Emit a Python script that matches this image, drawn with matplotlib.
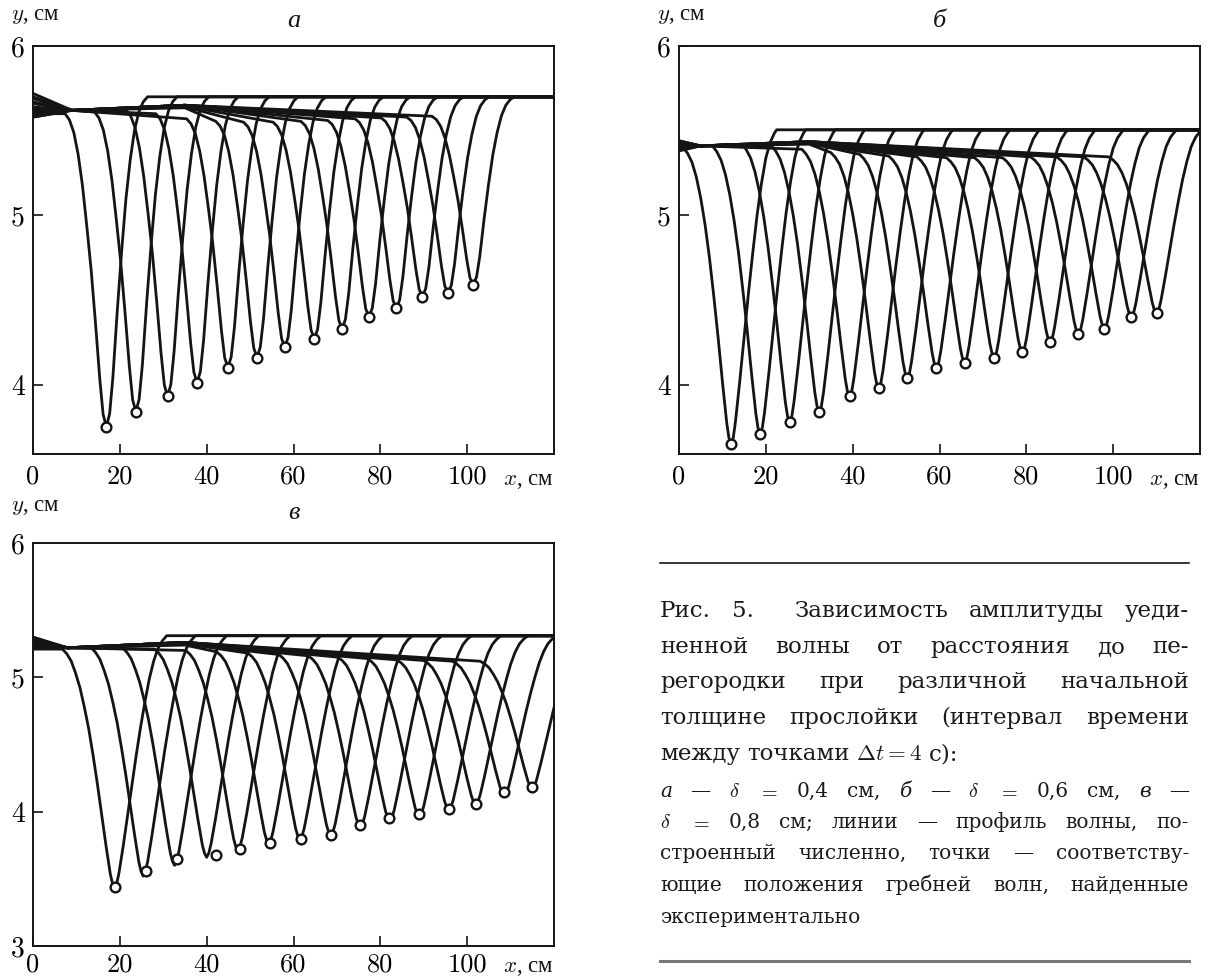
import matplotlib
matplotlib.use("Agg")
import matplotlib.pyplot as plt
from matplotlib.lines import Line2D

plt.rcParams["mathtext.fontset"] = "cm"
plt.rcParams["axes.unicode_minus"] = False

SERIF = "Liberation Serif"
CAPFONT = "DejaVu Serif"
TICKFONT = "cmr10"
INK = "#141414"
W_PX, H_PX = 1208, 980

# ---------- данные ----------
# (а) δ = 0,4 см: положения гребней (точки) = дно расчётных профилей
xa = [16.9, 23.7, 31.0, 37.8, 44.9, 51.6, 58.0, 64.8, 71.2, 77.4, 83.7, 89.7, 95.6, 101.4]
ya = [3.75, 3.84, 3.93, 4.01, 4.10, 4.16, 4.22, 4.27, 4.33, 4.40, 4.45, 4.52, 4.54, 4.59]
# уровень позади волны: при x = 0, на изломе плато и перед спадом
a_y0 = [5.60, 5.58, 5.58, 5.59, 5.60, 5.61, 5.62, 5.63, 5.64, 5.66, 5.67, 5.69, 5.70, 5.72]
a_ym = [5.62, 5.62, 5.62, 5.62, 5.63, 5.635, 5.64, 5.645, 5.65, 5.65, 5.65, 5.65, 5.65, 5.65]
a_yl = [5.60, 5.61, 5.62, 5.60, 5.57, 5.555, 5.55, 5.55, 5.555, 5.56, 5.57, 5.575, 5.58, 5.585]
a_top = 5.70
a_conv = (9.0, 5.62)
a_hump = 35.0

# (б) δ = 0,6 см
xb = [12.0, 18.7, 25.5, 32.3, 39.3, 46.0, 52.6, 59.3, 65.8, 72.6, 79.1, 85.5, 92.0, 98.0, 104.2, 110.0]
yb = [3.65, 3.71, 3.78, 3.84, 3.93, 3.98, 4.04, 4.10, 4.13, 4.16, 4.19, 4.25, 4.30, 4.33, 4.40, 4.42]
b_y0 = [5.40, 5.38, 5.39, 5.39, 5.40, 5.40, 5.41, 5.41, 5.42, 5.42, 5.42, 5.43, 5.43, 5.43, 5.44, 5.44]
b_ym = [5.41, 5.41, 5.42, 5.42, 5.42, 5.42, 5.425, 5.425, 5.43, 5.43, 5.43, 5.43, 5.435, 5.435, 5.435, 5.435]
b_yl = [5.40, 5.41, 5.42, 5.41, 5.39, 5.37, 5.36, 5.35, 5.345, 5.34, 5.34, 5.34, 5.345, 5.345, 5.345, 5.345]
b_top = 5.505
b_conv = (5.0, 5.41)
b_hump = 30.0

# (в) δ = 0,8 см: точки эксперимента и дно расчётных профилей
xv_pts = [18.8, 26.1, 33.2, 42.1, 47.7, 54.5, 61.7, 68.6, 75.4, 82.0, 89.0, 95.9, 102.0, 108.5, 114.9]
yv_pts = [3.44, 3.56, 3.65, 3.68, 3.72, 3.77, 3.80, 3.83, 3.90, 3.95, 3.98, 4.02, 4.06, 4.15, 4.18]
xv = [18.8, 25.4, 32.6, 40.0, 47.2, 54.3, 61.5, 68.6, 75.4, 82.2, 89.0, 95.8, 102.0, 108.6, 115.0]
yv = [3.43, 3.52, 3.60, 3.66, 3.71, 3.76, 3.79, 3.82, 3.88, 3.93, 3.96, 4.01, 4.05, 4.12, 4.17]
v_y0 = [5.21, 5.22, 5.22, 5.23, 5.23, 5.24, 5.24, 5.25, 5.26, 5.26, 5.27, 5.28, 5.28, 5.29, 5.30]
v_ym = [5.22, 5.22, 5.23, 5.23, 5.24, 5.24, 5.25, 5.25, 5.255, 5.26, 5.26, 5.26, 5.26, 5.26, 5.26]
v_yl = [5.21, 5.22, 5.22, 5.21, 5.20, 5.19, 5.18, 5.17, 5.16, 5.15, 5.14, 5.13, 5.125, 5.12, 5.12]
v_top = 5.31
v_conv = (8.0, 5.22)
v_hump = 35.0

# форма провала: смещение от дна (см) и доля глубины
a_off = [-9.5, -8.5, -7.5, -6.5, -5.5, -4.5, -3.5, -2.5, -1.5, -0.75, 0,
         0.75, 1.5, 2.5, 3.5, 4.5, 5.5, 6.5, 7.5, 8.5, 9.5]
a_frac = [0, 0.02, 0.06, 0.13, 0.23, 0.36, 0.50, 0.67, 0.85, 0.96, 1,
          0.96, 0.85, 0.65, 0.47, 0.31, 0.19, 0.10, 0.045, 0.015, 0]
b_off = [-11, -10, -9, -8, -7, -6, -5, -4, -3, -2, -1, -0.5, 0,
         0.5, 1, 2, 3, 4, 5, 6, 7, 8, 9, 10, 10.5]
b_frac = [0, 0.02, 0.05, 0.10, 0.17, 0.26, 0.37, 0.50, 0.64, 0.79, 0.93, 0.98, 1,
          0.98, 0.93, 0.80, 0.66, 0.52, 0.39, 0.27, 0.17, 0.09, 0.04, 0.01, 0]
v_off = [-12, -11, -10, -9, -8, -7, -6, -5, -4, -3, -2, -1, -0.5, 0,
         0.5, 1, 2, 3, 4, 5, 6, 7, 8, 9, 10, 11, 12]
v_frac = [0, 0.02, 0.05, 0.10, 0.16, 0.24, 0.33, 0.44, 0.56, 0.69, 0.82, 0.94, 0.98, 1,
          0.98, 0.94, 0.83, 0.71, 0.59, 0.47, 0.36, 0.26, 0.17, 0.10, 0.05, 0.02, 0]

x_ticks = [0, 20, 40, 60, 80, 100]


def profile(xt, yt, y0, ym, yl, top, off, frac, conv, hump):
    # плато позади волны -> провал -> невозмущённый уровень впереди
    start = xt + off[0]
    xs, ys = [0.0], [y0]
    if conv[0] < start:
        xs.append(conv[0])
        ys.append(conv[1])
    if conv[0] < hump < start - 3:
        xs.append(hump)
        ys.append(ym)
    for o, f in zip(off, frac):
        base = yl if o < 0 else top
        xs.append(xt + o)
        ys.append(base + f * (yt - base))
    xs.append(130.0)
    ys.append(top)
    return xs, ys


def pt(px):
    return px * 0.72


def panel(rect, letter, ylim, yticks, xt, yt, y0, ym, yl, top, off, frac,
          conv, hump, xp=None, yp=None, ylab_up=31, let_up=25, xlab_dn=31,
          xpad=8):
    ax = fig.add_axes(rect)
    for i in range(len(xt)):
        xs, ys = profile(xt[i], yt[i], y0[i], ym[i], yl[i], top, off, frac,
                         conv, hump)
        ax.plot(xs, ys, color=INK, lw=2.0, solid_joinstyle="round")
    if xp is None:
        xp, yp = xt, yt
    ax.plot(xp, yp, ls="none", marker="o", ms=7.0, mfc="white", mec=INK,
            mew=1.7, zorder=5)
    ax.set_xlim(0, 120)
    ax.set_ylim(*ylim)
    ax.set_xticks(x_ticks)
    ax.set_xticklabels([str(v) for v in x_ticks], fontfamily=TICKFONT, fontsize=19)
    ax.set_yticks(yticks)
    ax.set_yticklabels([str(v) for v in yticks], fontfamily=TICKFONT, fontsize=20)
    ax.tick_params(direction="in", length=7.5, width=1.2, color=INK, pad=6,
                   top=False, right=False)
    ax.tick_params(axis="x", pad=xpad)
    for s in ax.spines.values():
        s.set_linewidth(1.4)
        s.set_color(INK)
    ax.annotate(r"$x$, см", xy=(1, 0), xycoords="axes fraction",
                xytext=(0, pt(-xlab_dn)), textcoords="offset points",
                ha="right", va="baseline", fontsize=16.5, family=SERIF, color=INK)
    ax.annotate(r"$y$, см", xy=(0, 1), xycoords="axes fraction",
                xytext=(pt(-22), pt(ylab_up)), textcoords="offset points",
                ha="left", va="center", fontsize=16.5, family=SERIF, color=INK)
    ax.annotate(letter, xy=(0.5, 1), xycoords="axes fraction",
                xytext=(0, pt(let_up)), textcoords="offset points",
                ha="center", va="center", fontsize=19, family=SERIF,
                style="italic", color=INK)
    return ax


fig = plt.figure(figsize=(W_PX / 100, H_PX / 100), dpi=100)


def frect(l, t, r, b):
    return [l / W_PX, 1 - b / H_PX, (r - l) / W_PX, (b - t) / H_PX]


panel(frect(33, 46, 554, 454), "а", (3.59, 6.0), [4, 5, 6],
      xa, ya, a_y0, a_ym, a_yl, a_top, a_off, a_frac, a_conv, a_hump)
panel(frect(679, 46, 1200, 454), "б", (3.59, 6.0), [4, 5, 6],
      xb, yb, b_y0, b_ym, b_yl, b_top, b_off, b_frac, b_conv, b_hump)
panel(frect(33, 543, 554, 946), "в", (3.0, 6.0), [3, 4, 5, 6],
      xv, yv, v_y0, v_ym, v_yl, v_top, v_off, v_frac, v_conv, v_hump,
      xp=xv_pts, yp=yv_pts, ylab_up=37, let_up=30, xlab_dn=26, xpad=5)

# ---------- подпись ----------
TX0, TX1 = 660, 1189
fig.add_artist(Line2D([TX0 / W_PX, TX1 / W_PX], [1 - 563 / H_PX] * 2,
                      transform=fig.transFigure, color="black", lw=1.1))
fig.add_artist(Line2D([TX0 / W_PX, TX1 / W_PX], [1 - 961 / H_PX] * 2,
                      transform=fig.transFigure, color="#777777", lw=2.2))

renderer = fig.canvas.get_renderer()
IT = "italic"

par1 = [
    (617, [("Рис.",), ("5.",), ("Зависимость",), ("амплитуды",), ("уеди-",)], True, [1, 2, 1, 1]),
    (653, [("ненной",), ("волны",), ("от",), ("расстояния",), ("до",), ("пе-",)], True, None),
    (688, [("регородки",), ("при",), ("различной",), ("начальной",)], True, None),
    (724, [("толщине",), ("прослойки",), ("(интервал",), ("времени",)], True, None),
    (760, [("между",), ("точками",), (r"$\Delta t = 4$",), ("с):",)], False, None),
]
par2 = [
    (797, [("а", IT), ("—",), (r"$\delta$",), (r"$=$",), ("0,4",), ("см,",),
           ("б", IT), ("—",), (r"$\delta$",), (r"$=$",), ("0,6",), ("см,",),
           ("в", IT), ("—",)], True, None),
    (828, [(r"$\delta$",), (r"$=$",), ("0,8",), ("см;",), ("линии",), ("—",),
           ("профиль",), ("волны,",), ("по-",)], True, None),
    (859, [("строенный",), ("численно,",), ("точки",), ("—",), ("соответству-",)], True, None),
    (891, [("ющие",), ("положения",), ("гребней",), ("волн,",), ("найденные",)], True, None),
    (923, [("экспериментально",)], False, None),
]


def caption(lines, size):
    gap0 = 0.3 * size / 0.72   # обычный пробел, px
    for base, toks, justify, weights in lines:
        arts = []
        for tok in toks:
            style = tok[1] if len(tok) > 1 else "normal"
            arts.append(fig.text(0, 1 - base / H_PX, tok[0], fontsize=size,
                                 family=CAPFONT, style=style, color="#1a1a1a",
                                 ha="left", va="baseline"))
        widths = [a.get_window_extent(renderer).width for a in arts]
        n = len(arts) - 1
        if weights is None:
            weights = [1] * n
        if justify and n > 0:
            unit = max((TX1 - TX0 - sum(widths)) / sum(weights), 2.0)
        else:
            unit = gap0
        x = TX0
        for i, a in enumerate(arts):
            a.set_x(x / W_PX)
            x += widths[i] + (unit * weights[i] if i < n else 0)


caption(par1, 16.5)
caption(par2, 14.5)

fig.savefig("out.png", dpi=100)
